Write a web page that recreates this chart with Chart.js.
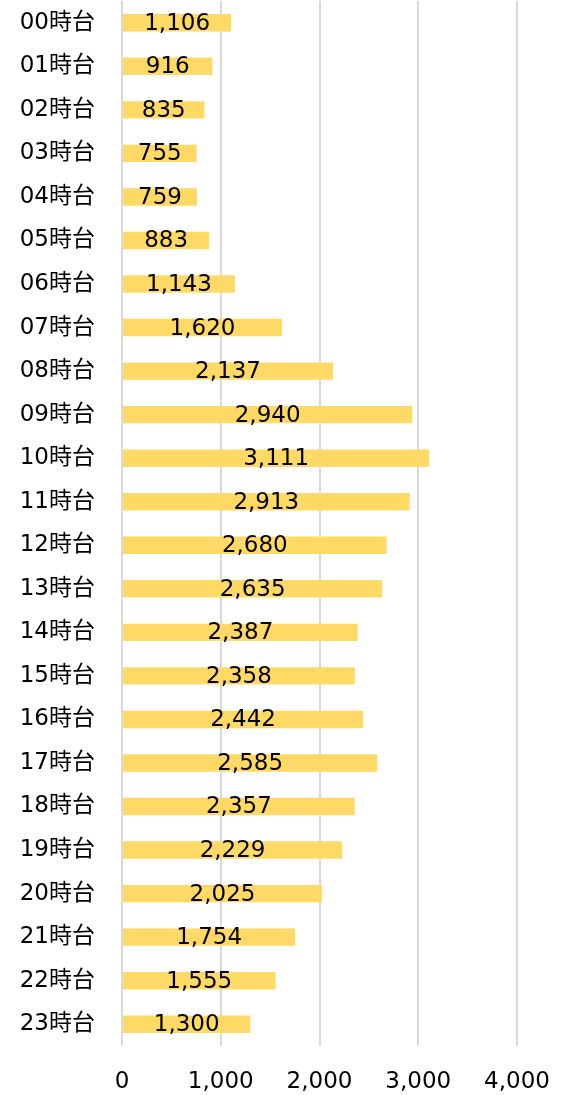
<!DOCTYPE html>
<html><head><meta charset="utf-8">
<script src="https://cdn.jsdelivr.net/npm/chart.js@4"></script>
<style>html,body{margin:0;padding:0;background:#fff}#wrap{width:563px;height:1095px}</style>
</head><body><div id="wrap"><canvas id="c"></canvas></div>
<script>
const categories = ["00時台","01時台","02時台","03時台","04時台","05時台","06時台","07時台","08時台","09時台","10時台","11時台","12時台","13時台","14時台","15時台","16時台","17時台","18時台","19時台","20時台","21時台","22時台","23時台"];
const values = [1106,916,835,755,759,883,1143,1620,2137,2940,3111,2913,2680,2635,2387,2358,2442,2585,2357,2229,2025,1754,1555,1300];
const xTicks = [0,1000,2000,3000,4000];

const FONT = '"DejaVu Sans","Noto Sans CJK JP",sans-serif';
const fmt = v => v.toLocaleString('en-US');

const labelPlugin = {
  id: 'barLabels',
  afterDatasetsDraw(chart) {
    const ctx = chart.ctx;
    const meta = chart.getDatasetMeta(0);
    ctx.save();
    ctx.font = '23px ' + FONT;
    ctx.fillStyle = '#000';
    ctx.textAlign = 'center';
    ctx.textBaseline = 'middle';
    meta.data.forEach((bar, i) => {
      const cx = (bar.x + bar.base) / 2;
      ctx.fillText(fmt(values[i]), cx, bar.y + 1);
    });
    ctx.restore();
  }
};

new Chart(document.getElementById('c'), {
  type: 'bar',
  data: { labels: categories, datasets: [{ data: values, backgroundColor: '#FFD966', barPercentage: 0.4, categoryPercentage: 1 }] },
  options: {
    indexAxis: 'y',
    responsive: true,
    maintainAspectRatio: false,
    animation: false,
    layout: { padding: { left: 0, right: 46, top: 1, bottom: 0 } },
    plugins: { legend: { display: false }, tooltip: { enabled: false } },
    scales: {
      x: {
        min: 0, max: 4000,
        afterBuildTicks: s => { s.ticks = xTicks.map(v => ({ value: v })); },
        grid: { color: '#D9D9D9', lineWidth: 2, drawTicks: false },
        border: { display: false },
        ticks: { font: { size: 23, family: FONT }, color: '#000', padding: 22, callback: v => fmt(v), maxRotation: 0 },
        afterFit: s => { s.height = 49; s.paddingLeft = 0; s.paddingRight = 0; s.paddingTop = 0; s.paddingBottom = 0; }
      },
      y: {
        grid: { display: false, drawTicks: false },
        border: { display: false },
        ticks: { font: { size: 23, family: FONT }, color: '#000', padding: 27 },
        afterFit: s => { s.width = 122; s.paddingLeft = 0; s.paddingRight = 0; s.paddingTop = 0; s.paddingBottom = 0; }
      }
    }
  },
  plugins: [labelPlugin]
});
</script></body></html>
